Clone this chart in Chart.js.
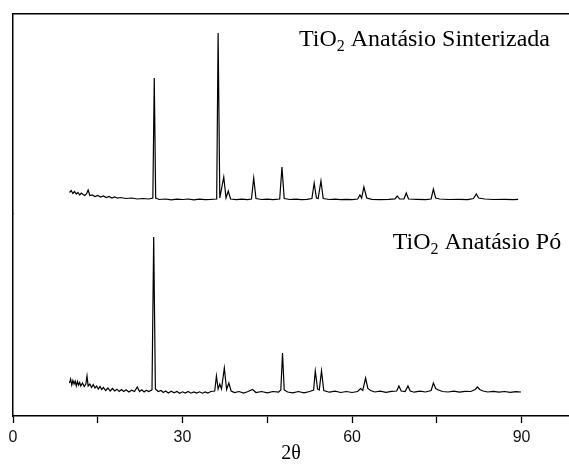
<!DOCTYPE html>
<html>
<head>
<meta charset="utf-8">
<script src="https://cdn.jsdelivr.net/npm/chart.js@4.4.0/dist/chart.umd.min.js"></script>
<style>
	html, body { margin: 0; padding: 0; background: #fff; overflow: hidden; }
	#wrap { position: relative; width: 569px; height: 465px; }
	canvas { position: absolute; left: 0; }
	#top-panel { top: 0; }
	#bottom-panel { top: 213px; }
</style>
</head>
<body>
<div id="wrap">
	<canvas id="top-panel" width="569" height="214"></canvas>
	<canvas id="bottom-panel" width="569" height="251"></canvas>
</div>
<script>
// XRD patterns (2theta in degrees, intensity in arbitrary counts)
const sinteredAngles = [
	10.0, 10.3, 10.6, 10.9, 11.2, 11.5, 11.8, 12.1, 12.4, 12.7,
	13.0, 13.3, 13.6, 14.0, 14.5, 15.0, 15.5, 16.0, 16.5, 17.0,
	17.5, 18.0, 18.5, 19.0, 20.0, 21.0, 22.0, 23.0, 24.0, 24.75,
	25.0, 25.25, 25.9, 27, 28, 29, 30, 31, 32, 33,
	34, 35, 36.05, 36.3, 36.6, 37.3, 37.7, 38.1, 38.5, 39.5,
	40.5, 41.5, 42.2, 42.6, 43.0, 44, 45, 46, 47.2, 47.6,
	48.0, 49, 50, 51, 52, 52.9, 53.3, 53.7, 54.0, 54.5,
	54.9, 56, 57, 58, 59, 60, 61.0, 61.4, 61.7, 62.1,
	62.6, 63.5, 65, 66.5, 67.6, 68.0, 68.4, 69.2, 69.6, 70.0,
	71.5, 73, 74.0, 74.4, 74.8, 75.5, 77, 79, 80.5, 81.5,
	82.0, 82.4, 83.5, 85, 87, 88.5, 89.4
];
const sinteredCounts = [
	205, 225, 195, 215, 190, 205, 180, 200, 185, 175,
	190, 230, 175, 180, 165, 175, 160, 170, 155, 165,
	150, 160, 148, 155, 145, 150, 140, 145, 140, 150,
	1350, 150, 135, 140, 132, 138, 135, 140, 132, 138,
	134, 136, 140, 1800, 150, 360, 150, 220, 140, 133,
	138, 134, 140, 350, 145, 135, 138, 133, 140, 460,
	145, 135, 138, 133, 137, 145, 300, 150, 145, 320,
	145, 135, 138, 133, 137, 133, 140, 180, 150, 260,
	150, 137, 133, 137, 142, 170, 140, 142, 200, 140,
	136, 133, 140, 240, 150, 140, 135, 137, 133, 145,
	190, 150, 140, 135, 137, 133, 136
];

const powderAngles = [
	10.0, 10.2, 10.4, 10.6, 10.8, 11.0, 11.2, 11.4, 11.6, 11.8,
	12.0, 12.3, 12.6, 12.9, 13.1, 13.3, 13.6, 13.9, 14.2, 14.5,
	14.8, 15.1, 15.4, 15.7, 16.0, 16.4, 16.8, 17.2, 17.6, 18.0,
	18.4, 18.8, 19.2, 19.6, 20.0, 20.5, 21.0, 21.5, 22.0, 22.4,
	22.8, 23.2, 23.6, 24.0, 24.6, 24.9, 25.2, 25.7, 26.2, 26.6,
	27.0, 27.5, 28.0, 28.5, 29.0, 29.5, 30.0, 30.5, 31.0, 31.5,
	32.0, 32.5, 33.0, 33.5, 34.0, 34.5, 35.0, 35.7, 36.0, 36.3,
	36.6, 36.9, 37.4, 37.8, 38.2, 38.6, 39.2, 40.0, 40.8, 41.5,
	42.4, 43.0, 44.0, 45.0, 46.0, 47.0, 47.4, 47.7, 48.0, 48.6,
	49.5, 50.5, 51.5, 52.5, 53.2, 53.5, 53.9, 54.2, 54.6, 55.0,
	56.0, 57.0, 58.0, 59.0, 60.0, 61.0, 61.5, 61.9, 62.4, 62.8,
	63.3, 64.0, 65.0, 66.0, 67.0, 67.9, 68.3, 68.7, 69.4, 69.9,
	70.3, 71.0, 72.0, 73.0, 74.0, 74.4, 74.8, 75.3, 76.0, 77.0,
	78.0, 79.0, 80.0, 81.0, 81.8, 82.2, 82.6, 83.2, 84.0, 85.0,
	86.0, 87.0, 88.0, 89.0, 89.9
];
const powderCounts = [
	330, 370, 310, 355, 320, 350, 300, 345, 310, 335,
	300, 330, 295, 320, 400, 300, 320, 285, 315, 280,
	300, 270, 295, 265, 285, 255, 280, 250, 275, 250,
	268, 245, 265, 245, 262, 240, 258, 245, 290, 245,
	262, 240, 258, 245, 262, 1790, 270, 245, 255, 235,
	250, 230, 248, 232, 245, 228, 242, 230, 245, 228,
	240, 230, 242, 228, 240, 230, 245, 250, 400, 270,
	320, 270, 480, 265, 330, 250, 235, 245, 230, 242,
	265, 235, 245, 232, 245, 238, 260, 630, 260, 240,
	232, 245, 232, 245, 260, 450, 270, 260, 450, 255,
	238, 248, 235, 245, 235, 245, 275, 255, 380, 275,
	255, 240, 248, 236, 246, 250, 300, 250, 245, 300,
	250, 238, 248, 240, 255, 330, 275, 260, 245, 240,
	248, 238, 246, 245, 265, 290, 265, 250, 240, 246,
	238, 245, 236, 244, 240
];

const sinteredLabel = ["TiO", "2", " Anatásio Sinterizada"];
const powderLabel = ["TiO", "2", " Anatásio Pó"];
const xTitle = "2θ";

Chart.defaults.font.family = '"Liberation Sans", Arial, sans-serif';
Chart.defaults.color = "#111";

// writes "TiO2 ..." with a lowered small 2
const panelLabel = {
	id: "panelLabel",
	afterDatasetsDraw(chart, args, opts) {
		const ctx = chart.ctx;
		let x = chart.scales.x.getPixelForValue(opts.at[0]);
		const y = chart.scales.y.getPixelForValue(opts.at[1]);
		ctx.save();
		ctx.fillStyle = "#000";
		ctx.textBaseline = "alphabetic";
		opts.parts.forEach((part, i) => {
			const sub = i === 1;
			ctx.font = (sub ? "16px" : "24px") + ' "Liberation Serif", "Times New Roman", serif';
			ctx.fillText(part, x, sub ? y + 5 : y);
			x += ctx.measureText(part).width;
		});
		ctx.restore();
	}
};

function makePanel(id, angles, counts, yMax, label, labelAt, isBottom) {
	const points = angles.map((a, i) => ({ x: a, y: counts[i] }));
	return new Chart(document.getElementById(id), {
		type: "line",
		data: {
			datasets: [{
				data: points,
				borderColor: "#000",
				borderWidth: 1.2,
				pointRadius: 0,
				tension: 0,
				fill: false
			}]
		},
		options: {
			responsive: false,
			animation: false,
			events: [],
			layout: { padding: { left: 13, right: 0, top: isBottom ? 0 : 14, bottom: isBottom ? 0 : 1 } },
			plugins: {
				legend: { display: false },
				tooltip: { enabled: false },
				panelLabel: { parts: label, at: labelAt }
			},
			scales: {
				x: {
					type: "linear",
					position: isBottom ? "bottom" : "top",
					min: 0,
					max: 98.4,
					border: { display: true, color: "#000", width: 1.5 },
					grid: {
						drawOnChartArea: false,
						drawTicks: isBottom,
						tickLength: 7,
						tickColor: "#000",
						tickWidth: 1.3
					},
					ticks: {
						display: isBottom,
						stepSize: 15,
						includeBounds: false,
						autoSkip: false,
						maxRotation: 0,
						padding: 7,
						color: "#111",
						font: { size: 16, lineHeight: 1 },
						callback: v => (v % 30 === 0 ? v : "")
					},
					title: {
						display: isBottom,
						text: xTitle,
						color: "#000",
						padding: { top: -9, bottom: 0 },
						font: { family: '"Liberation Serif", "Times New Roman", serif', size: 20, lineHeight: 1 }
					}
				},
				y: {
					min: 0,
					max: yMax,
					border: { display: true, color: "#000", width: 1.5 },
					grid: { drawOnChartArea: false, drawTicks: false },
					ticks: { display: false }
				}
			}
		},
		plugins: [panelLabel]
	});
}

makePanel("top-panel", sinteredAngles, sinteredCounts, 1990, sinteredLabel, [50.6, 1670], false);
makePanel("bottom-panel", powderAngles, powderCounts, 2030, powderLabel, [67.2, 1670], true);
</script>
</body>
</html>
